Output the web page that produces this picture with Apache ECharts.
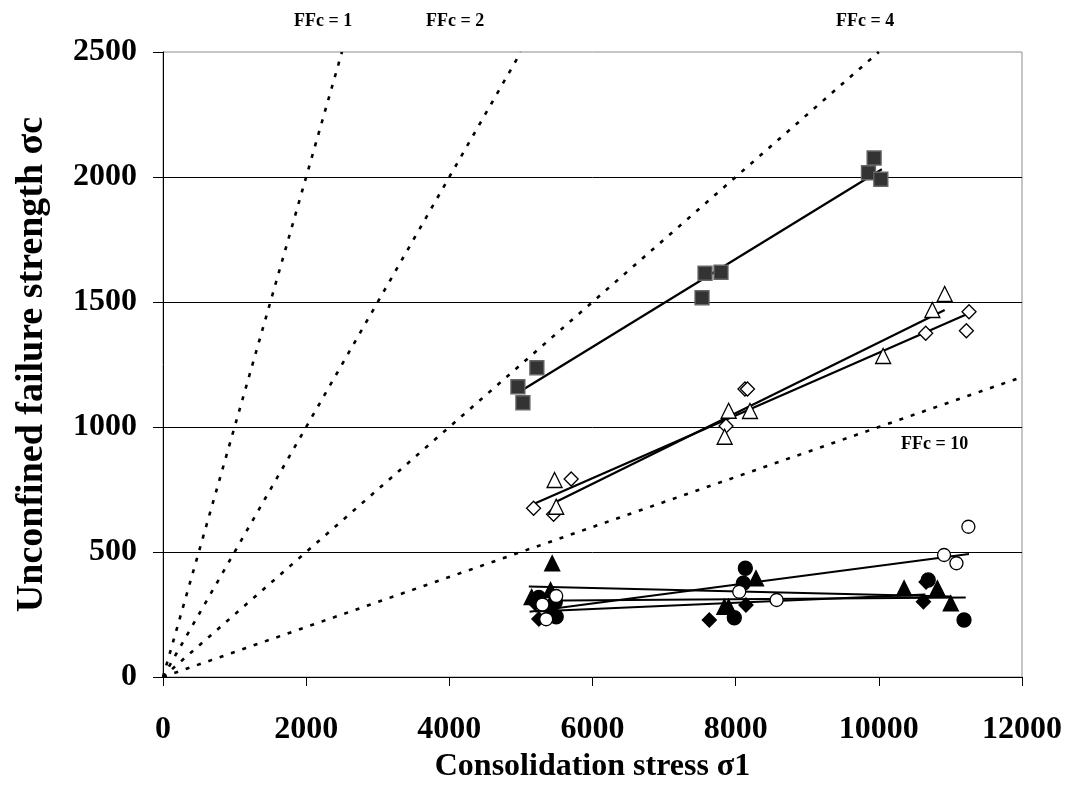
<!DOCTYPE html>
<html>
<head>
<meta charset="utf-8">
<script src="https://cdn.jsdelivr.net/npm/echarts@6/dist/echarts.min.js"></script>
<style>
  html, body { margin: 0; padding: 0; background: #fff; }
  #chart { width: 1065px; height: 796px; }
</style>
</head>
<body>
<div id="chart"></div>
<script>
// axis ticks
const xTicks = [0, 2000, 4000, 6000, 8000, 10000, 12000]
const yTicks = [0, 500, 1000, 1500, 2000, 2500]

// flow function reference lines (sigma1, sigmaC)
const ffcNames = ['FFc = 1', 'FFc = 2', 'FFc = 4', 'FFc = 10']
const ffc1 = [[0, 0], [2500, 2500]]
const ffc2 = [[0, 0], [5000, 2500]]
const ffc4 = [[0, 0], [10000, 2500]]
const ffc10 = [[0, 0], [12000, 1200]]

// measured points (sigma1, sigmaC)
const squares = [[4958, 1161], [5028, 1097], [5223, 1237], [7530, 1517], [7572, 1615], [7795, 1619], [9855, 2017], [9934, 2076], [10028, 1991]]
const openDiamonds = [[5177, 675], [5456, 651], [5702, 792], [7865, 1004], [8130, 1152], [8165, 1152], [10655, 1375], [11223, 1385], [11260, 1461]]
const openTriangles = [[5470, 788], [5493, 681], [7846, 961], [7902, 1065], [8200, 1064], [10060, 1284], [10748, 1468], [10920, 1532]]
const filledTriangles = [[5150, 320], [5414, 348], [5437, 455], [7842, 281], [7902, 281], [8284, 395], [10353, 355], [10818, 355], [11005, 295]]
const filledCircles = [[5250, 318], [5480, 300], [5493, 241], [7981, 237], [8107, 375], [8135, 435], [10690, 388], [11190, 228]]
const filledDiamonds = [[5200, 295], [5251, 232], [5400, 270], [7632, 228], [8144, 288], [10623, 301], [10660, 380]]
const openCircles = [[5300, 290], [5353, 231], [5493, 324], [8050, 341], [8572, 308], [10911, 488], [11084, 455], [11251, 601]]

// trend lines
const squareTrend = [[4958, 1137], [10042, 2031]]
const diamondTrend = [[5177, 692], [11260, 1455]]
const triangleTrend = [[5493, 701], [10920, 1468]]
const openCircleTrend = [[5121, 261], [11260, 492]]
const filledTriangleTrend = [[5111, 362], [11005, 322]]
const filledCircleTrend = [[5130, 305], [11214, 318]]
const filledDiamondTrend = [[5200, 262], [10650, 330]]

const font = 'Liberation Serif'

const chart = echarts.init(document.getElementById('chart'), null, { renderer: 'canvas' })

const dashed = (data) => ({
  type: 'line',
  data,
  showSymbol: false,
  symbol: 'none',
  silent: true,
  z: 3,
  lineStyle: { color: '#000', width: 2.6, type: [4, 8], cap: 'butt' },
})

const trend = (data) => ({
  type: 'line',
  data,
  showSymbol: false,
  symbol: 'none',
  silent: true,
  z: 4,
  lineStyle: { color: '#000', width: 2.2 },
})

const scatter = (data, symbol, size, fill, border) => ({
  type: 'scatter',
  data,
  symbol,
  symbolSize: size,
  z: 5,
  itemStyle: { color: fill, borderColor: border, borderWidth: 1.3, opacity: 1 },
})

const ffcLabel = (text, left, top) => ({
  type: 'text',
  left,
  top,
  style: { text, font: 'bold 18px "Liberation Serif"', fill: '#000' },
})

chart.setOption({
  animation: false,
  backgroundColor: '#fff',
  textStyle: { fontFamily: font },
  grid: {
    left: 163,
    right: 42,
    top: 52,
    bottom: 119,
    show: true,
    borderColor: '#8c8c8c',
    borderWidth: 1,
    backgroundColor: 'transparent',
  },
  xAxis: {
    type: 'value',
    min: xTicks[0],
    max: xTicks[xTicks.length - 1],
    interval: 2000,
    name: 'Consolidation stress σ1',
    nameLocation: 'middle',
    nameGap: 71,
    nameTextStyle: { fontFamily: font, fontWeight: 'bold', fontSize: 32, color: '#000' },
    axisLine: { show: true, lineStyle: { color: '#000', width: 1 } },
    axisTick: { show: true, inside: false, length: 9, lineStyle: { color: '#000' } },
    axisLabel: {
      margin: 37,
      fontFamily: font,
      fontWeight: 'bold',
      fontSize: 32,
      color: '#000',
      formatter: (v) => String(v),
    },
    splitLine: { show: false },
  },
  yAxis: {
    type: 'value',
    min: yTicks[0],
    max: yTicks[yTicks.length - 1],
    interval: 500,
    name: 'Unconfined failure strength σc',
    nameLocation: 'middle',
    nameRotate: 90,
    nameGap: 112,
    nameTextStyle: { fontFamily: font, fontWeight: 'bold', fontSize: 38, color: '#000' },
    axisLine: { show: true, lineStyle: { color: '#000', width: 1 } },
    axisTick: { show: true, inside: false, length: 10, lineStyle: { color: '#000' } },
    axisLabel: {
      margin: 26,
      fontFamily: font,
      fontWeight: 'bold',
      fontSize: 32,
      color: '#000',
      formatter: (v) => String(v),
    },
    splitLine: { show: true, showMinLine: false, showMaxLine: false, lineStyle: { color: '#000', width: 1 } },
  },
  graphic: [
    ffcLabel(ffcNames[0], 294, 12),
    ffcLabel(ffcNames[1], 426, 12),
    ffcLabel(ffcNames[2], 836, 12),
    ffcLabel(ffcNames[3], 901, 435),
  ],
  series: [
    dashed(ffc1),
    dashed(ffc2),
    dashed(ffc4),
    dashed(ffc10),
    scatter(squares, 'rect', 14, '#333', '#666'),
    scatter(openDiamonds, 'diamond', 14, '#fff', '#000'),
    scatter(openTriangles, 'triangle', 15, '#fff', '#000'),
    scatter(filledTriangles, 'triangle', 15, '#000', '#000'),
    scatter(filledCircles, 'circle', 14, '#000', '#000'),
    scatter(filledDiamonds, 'diamond', 14, '#000', '#000'),
    scatter(openCircles, 'circle', 13, '#fff', '#000'),
    trend(squareTrend),
    trend(diamondTrend),
    trend(triangleTrend),
    trend(openCircleTrend),
    trend(filledTriangleTrend),
    trend(filledCircleTrend),
    trend(filledDiamondTrend),
  ],
})
</script>
</body>
</html>
